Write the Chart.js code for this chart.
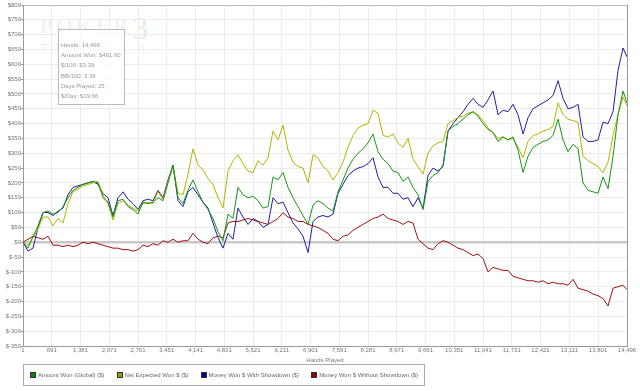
<!DOCTYPE html>
<html lang="en">
<head>
<meta charset="UTF-8">
<title>Poker Tracker - Hands Played</title>
<script src="https://cdn.jsdelivr.net/npm/chart.js"></script>
<style>
  body { margin: 0; background: #fff; }
  #wrap { position: relative; width: 640px; height: 391px; font-family: "Liberation Sans", Arial, sans-serif; }
  #chart { position: absolute; left: 0; top: 0; z-index: 1; }
  #mark { position: absolute; left: 40px; top: 12px; z-index: 0; font-family: "Liberation Serif", serif; line-height: 1; }
  #mark .pk { font-size: 22px; letter-spacing: 4px; color: rgba(190, 90, 90, 0.14); }
  #mark .three { font-size: 32px; color: rgba(80, 150, 80, 0.18); vertical-align: -6px; }
  #mark .tr { font-size: 15px; letter-spacing: 6px; color: rgba(0, 0, 0, 0.08); margin-top: -2px; }
  #info { position: absolute; left: 58px; top: 29px; width: 63px; height: 64px; padding: 10px 0 0 2px;
          border: 1px solid #bbb; background: rgba(255,255,255,0.85); z-index: 2;
          font-size: 6px; line-height: 10.2px; color: #999; white-space: nowrap; }
  #legend { position: absolute; left: 23px; top: 364px; width: 400px; height: 20px; border: 1px solid #aaa;
            z-index: 2; display: flex; align-items: center; font-size: 6px; color: #666; white-space: nowrap; }
  #legend .item { display: flex; align-items: center; margin-left: 6px; margin-right: 6px; }
  #legend .box { width: 4px; height: 4px; border: 1px solid #333; margin-right: 2px; }
</style>
</head>
<body>
<div id="wrap">
  <div id="mark"><span class="pk">POKER</span><span class="three">3</span><div class="tr">TRACKER</div></div>
  <canvas id="chart" width="640" height="391"></canvas>
  <div id="info">
    Hands: 14,496<br>
    Amount Won: $491.60<br>
    $/100: $3.39<br>
    BB/100: 3.39<br>
    Days Played: 25<br>
    $/Day: $19.66
  </div>
  <div id="legend"></div>
</div>

<script>
// hands played at each sample
const hands = [1,121,241,361,481,601,721,841,961,1081,1201,1321,1441,1561,1681,1801,1921,2041,2161,2281,
  2401,2521,2641,2761,2881,3001,3121,3241,3361,3481,3601,3721,3841,3961,4081,4201,4321,4441,4561,4681,
  4801,4921,5041,5161,5281,5401,5521,5641,5761,5881,6001,6121,6241,6361,6481,6601,6721,6841,6961,7081,
  7201,7321,7441,7561,7681,7801,7921,8041,8161,8281,8401,8521,8641,8761,8881,9001,9121,9241,9361,9481,
  9601,9721,9841,9961,10081,10201,10321,10441,10561,10681,10801,10921,11041,11161,11281,11401,11521,11641,11761,11881,
  12001,12121,12241,12361,12481,12601,12721,12841,12961,13081,13201,13321,13441,13561,13681,13801,13921,14041,14161,14281,
  14401,14496];

const amountWon = [0,-20,20,55,100,105,95,100,120,150,175,185,195,200,205,200,150,135,85,140,
  145,120,110,95,135,130,135,150,140,200,260,150,130,175,210,170,135,110,80,35,
  5,95,80,185,160,150,155,140,115,120,220,210,235,185,150,120,90,60,125,140,
  130,115,105,170,210,250,280,300,315,335,365,305,280,265,240,235,205,220,185,160,
  110,205,225,235,260,375,390,400,415,430,440,425,400,380,370,340,355,345,355,310,
  235,290,320,330,340,345,360,415,345,305,330,315,200,175,170,165,220,180,290,430,
  510,470];

const netExpected = [0,-10,15,45,85,85,55,80,65,130,170,180,190,195,200,205,160,130,75,130,
  140,125,115,105,130,135,130,170,145,205,255,165,160,230,315,260,245,215,195,150,
  115,240,275,295,265,240,235,275,260,285,375,345,395,310,270,255,250,200,295,285,
  255,240,210,235,270,320,360,385,395,400,445,435,360,355,365,335,320,350,280,255,
  230,300,325,335,340,400,410,420,425,435,440,430,410,385,370,350,355,345,350,320,
  285,340,360,365,375,380,390,470,430,415,410,405,290,275,265,255,235,270,360,430,
  490,460];

const withShowdown = [0,-30,-20,50,100,100,90,105,115,160,185,190,195,200,205,195,165,150,90,150,
  170,145,130,110,140,145,140,175,150,210,260,140,120,170,185,160,135,115,65,15,
  -20,30,10,115,85,60,80,70,50,60,150,130,135,100,65,45,20,-35,70,85,
  90,85,95,165,195,225,240,250,255,265,285,220,185,185,165,165,145,150,120,150,
  115,225,250,240,255,375,400,420,440,465,485,465,455,480,510,430,445,440,465,430,
  365,420,450,460,470,480,495,545,485,450,455,465,355,340,340,345,405,400,440,580,
  655,625];

const withoutShowdown = [0,10,20,15,10,20,-10,-10,-15,-10,-15,-10,0,-5,0,-5,-10,-15,-20,-20,
  -25,-25,-30,-25,-10,-15,-5,-10,5,0,10,0,5,5,30,10,0,-5,15,20,
  15,65,70,70,75,80,75,70,65,60,70,80,100,85,80,70,70,60,55,50,
  40,30,10,5,20,25,40,50,60,70,80,85,95,80,75,70,60,70,65,10,
  -5,-20,-25,-5,5,0,-10,-20,-25,-35,-45,-40,-55,-100,-85,-90,-95,-95,-115,-120,
  -125,-130,-130,-135,-130,-140,-135,-140,-140,-145,-125,-155,-160,-165,-175,-180,-190,-215,-155,-150,
  -145,-160];

const xTickValues = [1,691,1381,2071,2761,3451,4141,4831,5521,6211,6901,7591,8281,8971,9661,10351,11041,11731,12421,13111,13801,14496];

const seriesNames = ['Amount Won (Global) ($)', 'Net Expected Won $ ($)', 'Money Won $ With Showdown ($)', 'Money Won $ Without Showdown ($)'];
const seriesValues = [amountWon, netExpected, withShowdown, withoutShowdown];
const lineColors = ['#149614', '#b4b400', '#1e1e9c', '#a01212'];
const boxColors = ['#008800', '#999900', '#000099', '#990000'];

Chart.defaults.font.family = '"Liberation Sans", Arial, sans-serif';
Chart.defaults.font.size = 6;
Chart.defaults.color = '#777';

const datasets = seriesNames.map(function (name, k) {
  return {
    label: name,
    data: hands.map(function (h, i) { return { x: h, y: seriesValues[k][i] }; }),
    borderColor: lineColors[k],
    backgroundColor: boxColors[k],
    borderWidth: 1,
    pointRadius: 0,
    tension: 0,
    fill: false
  };
});

const ctx = document.getElementById('chart').getContext('2d');
const chart = new Chart(ctx, {
  type: 'line',
  data: { datasets: datasets },
  options: {
    responsive: false,
    animation: false,
    events: [],
    layout: { padding: { top: 5, right: 13, bottom: 27, left: 0 } },
    plugins: { legend: { display: false }, tooltip: { enabled: false } },
    scales: {
      x: {
        type: 'linear',
        min: 1,
        max: 14496,
        afterBuildTicks: function (scale) {
          scale.ticks = xTickValues.map(function (v) { return { value: v }; });
        },
        afterFit: function (scale) { scale.height = 18; },
        ticks: {
          autoSkip: false,
          maxRotation: 0,
          padding: 1,
          color: '#777',
          callback: function (v) { return Number(v).toLocaleString('en-US'); }
        },
        grid: {
          drawTicks: false,
          color: function (c) { return c.tick && c.tick.value === 14496 ? '#999' : '#ececec'; }
        },
        border: { color: '#999' },
        title: { display: true, text: 'Hands Played', color: '#777', padding: 0, font: { size: 6 } }
      },
      y: {
        min: -350,
        max: 800,
        afterFit: function (scale) { scale.width = 23; },
        ticks: {
          stepSize: 50,
          padding: 0,
          color: '#777',
          callback: function (v) { return '$' + v; }
        },
        grid: {
          tickLength: 2,
          tickColor: '#999',
          tickWidth: 1,
          color: function (c) {
            if (!c.tick) return '#ececec';
            if (c.tick.value === 0) return '#c8c8c8';
            if (c.tick.value === 800) return '#bbb';
            return '#ececec';
          },
          lineWidth: function (c) { return c.tick && c.tick.value === 0 ? 2.5 : 1; }
        },
        border: { color: '#999' }
      }
    }
  }
});

// legend below the chart
const legend = document.getElementById('legend');
seriesNames.forEach(function (name, k) {
  const item = document.createElement('div');
  item.className = 'item';
  const box = document.createElement('span');
  box.className = 'box';
  box.style.background = boxColors[k];
  const txt = document.createElement('span');
  txt.textContent = name;
  item.appendChild(box);
  item.appendChild(txt);
  legend.appendChild(item);
});
</script>
</body>
</html>
